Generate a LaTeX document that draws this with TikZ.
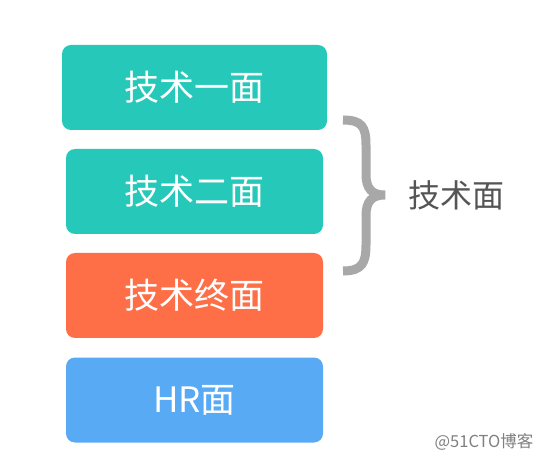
\documentclass[tikz,border=0pt]{standalone}
\usepackage{fontspec}
\usepackage{xcolor}
\newfontfamily\cjk{Noto Sans CJK SC}
\definecolor{tealbox}{HTML}{26C9B9}
\definecolor{orangebox}{HTML}{FF6F47}
\definecolor{bluebox}{HTML}{59AAF5}
\definecolor{bracegray}{HTML}{A8A8A8}
\definecolor{labelgray}{HTML}{555555}
\begin{document}
\begin{tikzpicture}[x=1pt,y=-1pt,
		stagebox/.style={rounded corners=9pt,minimum height=85pt,text=white,font=\cjk\fontsize{35}{40}\selectfont}]
			\useasboundingbox (0,0) rectangle (544,457);
			\node[stagebox,fill=tealbox,minimum width=265pt](tech1) at (194.5,87.5){技术一面};
			\node[stagebox,fill=tealbox,minimum width=257pt](tech2) at (194.5,191.5){技术二面};
			\node[stagebox,fill=orangebox,minimum width=257pt](techend) at (194.5,295.5){技术终面};
			\node[stagebox,fill=bluebox,minimum width=257pt](hr) at (194.5,400){HR面};
			% brace
			\draw[bracegray,line width=9pt](343,120)..controls(362,120)and(366,127)..(366,145)--(366,174)
				..controls(366,189)and(372,195)..(385,195)
				..controls(372,195)and(366,201)..(366,216)--(366,245)
				..controls(366,263)and(362,271)..(343,271);
			\node[text=labelgray,font=\cjk\fontsize{32}{36}\selectfont](techall) at (456,195){技术面};
			\node[text=gray,font=\cjk\fontsize{16.5}{20}\selectfont](mark) at (484,442){@51CTO博客};
		\end{tikzpicture}
\end{document}
